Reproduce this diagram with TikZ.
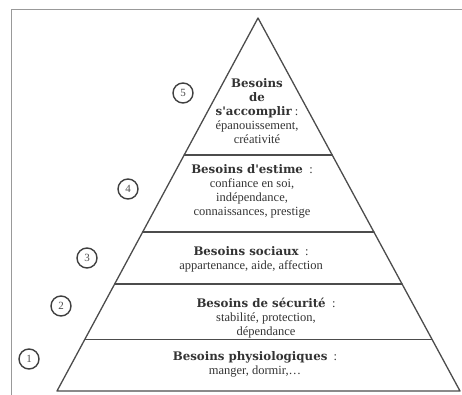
\documentclass[tikz,border=0pt]{standalone}
\usepackage{fontspec}
\setmainfont{Liberation Serif}
\newfontfamily\titrefont{DejaVu Serif}
\usetikzlibrary{calc}
\newcommand{\titre}[1]{{\titrefont\bfseries\fontsize{11.8}{14}\selectfont #1}}
\begin{document}
\begin{tikzpicture}[x=1pt,y=-1pt,line cap=round,
    niveau/.style={align=center,inner sep=0pt,text=black!80,font=\fontsize{12.5}{14}\selectfont},
    rang/.style={circle,draw=black!75,line width=1.4pt,inner sep=0pt,minimum size=20pt,text=black!70,font=\fontsize{11}{11}\selectfont},
    trait/.style={draw=black!70,line width=1.3pt}]
    \useasboundingbox (0,0) rectangle (462,395);
    \draw[black!40,line width=0.8pt] (462,9) -- (11,9) -- (11,395);   % cadre
    \coordinate (sommet) at (258,18);
    \coordinate (baseG) at (57,391);
    \coordinate (baseD) at (460,391);
    \draw[trait,line join=round] (sommet) -- (baseG) -- (baseD) -- cycle;   % pyramide
    \draw[trait] ($(sommet)!0.367!(baseG)$) -- ($(sommet)!0.367!(baseD)$);   % 5-4
    \draw[trait] ($(sommet)!0.574!(baseG)$) -- ($(sommet)!0.574!(baseD)$);   % 4-3
    \draw[trait] ($(sommet)!0.713!(baseG)$) -- ($(sommet)!0.713!(baseD)$);   % 3-2
    \draw[trait] ($(sommet)!0.861!(baseG)$) -- ($(sommet)!0.861!(baseD)$);   % 2-1
    \node[niveau] (accomplir) at (257,111) {\titre{Besoins}\\ \titre{de}\\ \titre{s'accomplir}~:\\ épanouissement,\\ créativité};
    \node[niveau] (estime) at (252,191) {\titre{Besoins d'estime}~~:\\ confiance en soi,\\ indépendance,\\ connaissances, prestige};
    \node[niveau] (sociaux) at (251,259) {\titre{Besoins sociaux}~~:\\ appartenance, aide, affection};
    \node[niveau] (securite) at (266,318) {\titre{Besoins de sécurité}~~:\\ stabilité, protection,\\ dépendance};
    \node[niveau] (physio) at (255,364) {\titre{Besoins physiologiques}~~:\\ manger, dormir,\dots};
    \node[rang] (r5) at (183,93) {5};
    \node[rang] (r4) at (128,189) {4};
    \node[rang] (r3) at (87,258) {3};
    \node[rang] (r2) at (61,306) {2};
    \node[rang] (r1) at (29,359) {1};
\end{tikzpicture}
\end{document}
